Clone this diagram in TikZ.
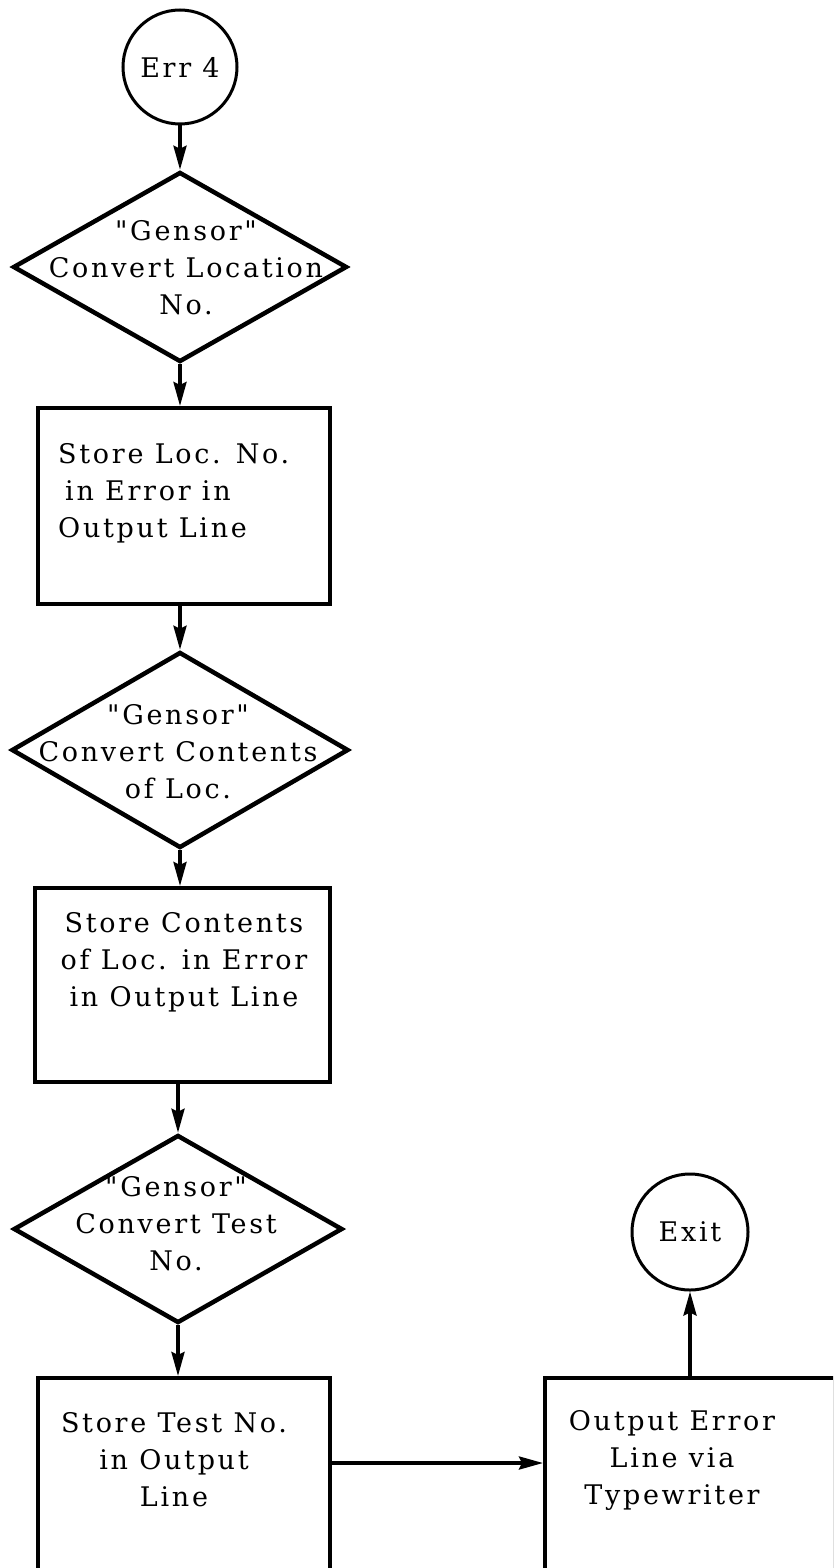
\documentclass[tikz,border=0pt]{standalone}
\usepackage{fontspec}
\setmainfont{DejaVu Serif}[LetterSpace=10, Ligatures=TeXOff]
\usetikzlibrary{shapes.geometric,arrows.meta}
\tikzset{
  stepbox/.style={draw, line width=4pt, rectangle, inner sep=0pt},
  dia/.style={draw, line width=4.5pt, diamond, inner sep=0pt},
  term/.style={draw, line width=3pt, circle, inner sep=0pt},
  txt/.style={font=\fontsize{27}{37}\selectfont, inner sep=0pt},
  arr/.style={line width=3.5pt, -{Stealth[length=24pt,width=13pt,inset=3pt]}}
}
\begin{document}
\begin{tikzpicture}[x=1pt,y=-1pt]
\useasboundingbox (0,0) rectangle (833,1568);
\clip (0,0) rectangle (833,1568);
% terminals
\node[term, minimum size=114pt] (e4) at (180,67) {};
\node[txt] (e4t) at (e4.center) {Err 4};
\node[term, minimum size=116pt] (ex) at (690,1232) {};
\node[txt] (ext) at (ex.center) {Exit};
% diamonds
\node[dia, minimum width=334pt, minimum height=190pt] (d1) at (180,267) {};
\node[txt, align=center] (d1t) at (186,268) {"Gensor"\\Convert Location\\No.};
\node[dia, minimum width=337pt, minimum height=196pt] (d2) at (180,750) {};
\node[txt, align=center] (d2t) at (178,752) {"Gensor"\\Convert Contents\\of Loc.};
\node[dia, minimum width=329pt, minimum height=188pt] (d3) at (178,1229) {};
\node[txt, align=center] (d3t) at (176,1224) {"Gensor"\\Convert Test\\No.};
% boxes
\node[stepbox, minimum width=292pt, minimum height=196pt] (b1) at (184,506) {};
\node[txt, align=left, anchor=west] (b1t) at (58,493) {Store Loc. No.\\\hspace{7pt}in Error in\\Output Line};
\node[stepbox, minimum width=295pt, minimum height=194pt] (b2) at (182.5,985) {};
\node[txt, align=center] (b2t) at (184,962) {Store Contents\\of Loc. in Error\\in Output Line};
\node[stepbox, minimum width=292pt, minimum height=212pt] (b3) at (184,1484) {};
\node[txt, align=center] (b3t) at (174,1460) {Store Test No.\\in Output\\Line};
\node[stepbox, minimum width=290pt, minimum height=212pt] (b4) at (690,1484) {};
\node[txt, align=center] (b4t) at (672,1460) {Output Error\\Line via\\Typewriter};
% connectors
\draw[arr] (e4.south) -- (d1.north);
\draw[arr] (d1.south) -- (d1.south |- b1.north);
\draw[arr] (b1.south -| d2.north) -- (d2.north);
\draw[arr] (d2.south) -- (d2.south |- b2.north);
\draw[arr] (b2.south -| d3.north) -- (d3.north);
\draw[arr] (d3.south) -- (d3.south |- b3.north);
\draw[arr] ([yshift=-87pt]b3.north east) -- ([yshift=-87pt]b4.north west);
\draw[arr] (b4.north) -- (ex.south);
\end{tikzpicture}
\end{document}
